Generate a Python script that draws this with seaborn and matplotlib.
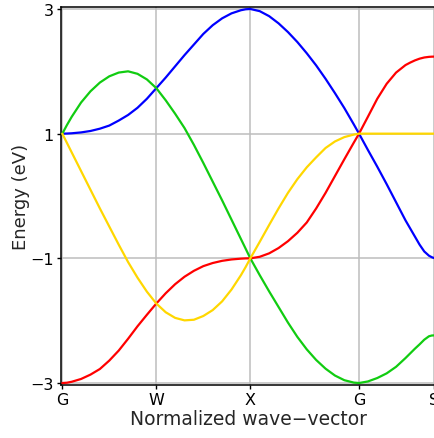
import matplotlib
matplotlib.use("Agg")
import matplotlib.pyplot as plt
import seaborn as sns
import pandas as pd

# High-symmetry points along the path (normalized wave-vector)
kpoint_pos = [0.0, 1.0, 2.0, 3.156, 3.954]
kpoint_labels = ["G", "W", "X", "G", "S"]
energy_ticks = [-3, -1, 1, 3]

# Sample positions along G-W-X
k_gx = [0.0, 0.05, 0.1, 0.2, 0.3, 0.4, 0.5, 0.6, 0.7, 0.8, 0.9, 1.0,
        1.1, 1.2, 1.3, 1.4, 1.5, 1.6, 1.7, 1.8, 1.9, 1.95, 2.0]
# Sample positions along X-G
k_xg = [2.1, 2.2, 2.3, 2.4, 2.5, 2.6, 2.7, 2.8, 2.9, 3.0, 3.1, 3.156]
# Sample positions along G-S
k_gs = [3.25, 3.35, 3.45, 3.55, 3.65, 3.70, 3.75, 3.80, 3.85, 3.90, 3.93, 3.954]

# Band energies (eV) on each segment
blue_gx = [1.000, 1.002, 1.006, 1.020, 1.043, 1.080, 1.130, 1.210, 1.300, 1.415, 1.560, 1.730,
           1.900, 2.080, 2.260, 2.430, 2.600, 2.740, 2.850, 2.930, 2.980, 2.995, 3.000]
blue_xg = [2.965, 2.885, 2.770, 2.630, 2.470, 2.290, 2.095, 1.880, 1.650, 1.410, 1.150, 1.000]
blue_gs = [0.740, 0.470, 0.190, -0.100, -0.390, -0.520, -0.650, -0.780, -0.890, -0.958,
           -0.982, -0.995]

green_gx = [1.000, 1.140, 1.270, 1.500, 1.680, 1.820, 1.920, 1.980, 2.000, 1.960, 1.870, 1.730,
            1.535, 1.320, 1.090, 0.820, 0.530, 0.230, -0.070, -0.380, -0.690, -0.845, -1.000]
green_xg = [-1.270, -1.530, -1.780, -2.030, -2.260, -2.460, -2.630, -2.770, -2.880, -2.955,
            -2.993, -3.000]
green_gs = [-2.975, -2.920, -2.845, -2.740, -2.600, -2.525, -2.450, -2.380, -2.305, -2.250,
            -2.238, -2.236]

red_gx = [-3.000, -2.995, -2.980, -2.935, -2.865, -2.775, -2.640, -2.480, -2.290, -2.090,
          -1.905, -1.725, -1.560, -1.415, -1.295, -1.200, -1.125, -1.075, -1.040, -1.018,
          -1.005, -1.001, -1.000]
red_xg = [-0.975, -0.920, -0.835, -0.725, -0.590, -0.425, -0.200, 0.050, 0.320, 0.590, 0.855,
          1.000]
red_gs = [1.270, 1.560, 1.800, 1.980, 2.100, 2.140, 2.175, 2.203, 2.222, 2.232, 2.235, 2.236]

yellow_gx = [1.000, 0.850, 0.700, 0.400, 0.100, -0.200, -0.490, -0.780, -1.060, -1.310,
             -1.535, -1.725, -1.865, -1.955, -1.995, -1.985, -1.925, -1.830, -1.690, -1.500,
             -1.270, -1.140, -1.000]
yellow_xg = [-0.735, -0.465, -0.200, 0.050, 0.270, 0.460, 0.620, 0.770, 0.875, 0.945, 0.985,
             1.000]
yellow_gs = [1.000, 1.000, 1.000, 1.000, 1.000, 1.000, 1.000, 1.000, 1.000, 1.000, 1.000,
             1.000]

bands = [
    ("blue", blue_gx + blue_xg + blue_gs, "#0000ff"),
    ("green", green_gx + green_xg + green_gs, "#11cc11"),
    ("red", red_gx + red_xg + red_gs, "#ff0000"),
    ("yellow", yellow_gx + yellow_xg + yellow_gs, "#ffd700"),
]
k_path = k_gx + k_xg + k_gs

sns.set_style("ticks")
plt.rcParams["font.family"] = ["DejaVu Sans"]

fig = plt.figure(figsize=(4.34, 4.39), dpi=100)
ax = fig.add_axes([60.5 / 434, 1 - 385.7 / 439, (436.5 - 60.5) / 434, (385.7 - 8.3) / 439])

for name, energies, color in bands:
    df = pd.DataFrame({"k": k_path, "E": energies})
    sns.lineplot(data=df, x="k", y="E", ax=ax, color=color, linewidth=1.6,
                 sort=False, estimator=None, zorder=3)

ax.set_xlim(-0.019, 3.98)
ax.set_ylim(-3.027, 3.027)
ax.set_xticks(kpoint_pos)
ax.set_xticklabels(kpoint_labels)
ax.set_yticks(energy_ticks)
ax.set_yticklabels([str(t).replace("-", "\u2212") for t in energy_ticks])
ax.grid(True, color="#bdbdbd", linewidth=1.1, zorder=0)
ax.set_axisbelow(True)

for side in ["left", "top", "bottom"]:
    ax.spines[side].set_visible(True)
    ax.spines[side].set_color("black")
    ax.spines[side].set_linewidth(1.1)
ax.spines["right"].set_visible(False)

ax.tick_params(axis="both", direction="out", length=3, width=1, colors="black",
               labelsize=11.5, pad=2)
ax.set_xlabel("Normalized wave\u2212vector", fontsize=13.5, labelpad=2)
ax.set_ylabel("Energy (eV)", fontsize=13, labelpad=0)

fig.savefig("out.png", dpi=100)
